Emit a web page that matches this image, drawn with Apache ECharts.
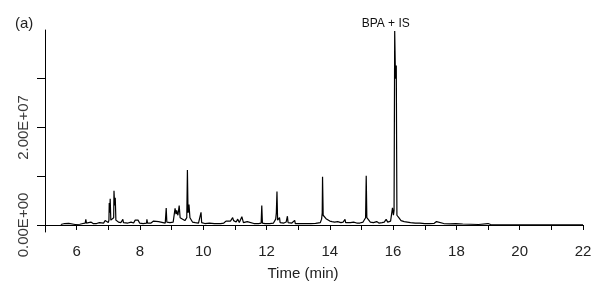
<!DOCTYPE html>
<html>
<head>
<meta charset="utf-8">
<script src="https://cdn.jsdelivr.net/npm/echarts@6/dist/echarts.min.js"></script>
<style>
    html, body { margin: 0; padding: 0; background: #fff; }
    #chart { width: 605px; height: 293px; }
</style>
</head>
<body>
<div id="chart"></div>
<script>
// retention time (min)
var times = [
    5.50, 5.62, 5.68, 5.75, 5.80, 5.95, 6.10, 6.20, 6.27, 6.29, 6.31, 6.35, 6.45, 6.52, 6.57, 6.63, 6.72, 6.78, 6.85, 6.90, 6.96,
    7.00, 7.02, 7.03, 7.045, 7.06, 7.08, 7.13, 7.17, 7.18, 7.20, 7.22, 7.24, 7.32, 7.40, 7.45, 7.46, 7.48, 7.62, 7.72, 7.80, 7.85, 7.89, 7.94, 7.99,
    8.10, 8.21, 8.22, 8.24, 8.35, 8.43, 8.48, 8.59, 8.65, 8.80, 8.83, 8.85, 8.95,
    9.05, 9.10, 9.11, 9.14, 9.16, 9.20, 9.24, 9.27, 9.35, 9.42, 9.48, 9.50, 9.52, 9.55, 9.58, 9.66, 9.75, 9.85, 9.91, 9.93, 9.95,
    10.05, 10.20, 10.35, 10.55, 10.65, 10.72, 10.78, 10.86, 10.93, 10.96, 10.99,
    11.04, 11.09, 11.14, 11.18, 11.22, 11.27, 11.33, 11.39, 11.45, 11.60, 11.75, 11.83, 11.85, 11.87, 11.95,
    12.10, 12.22, 12.29, 12.31, 12.33, 12.35, 12.38, 12.41, 12.43, 12.55, 12.62, 12.66, 12.68, 12.80, 12.89, 12.91,
    13.10, 13.25, 13.40, 13.55, 13.70, 13.74, 13.76, 13.77, 13.79, 13.83, 13.88, 13.93,
    14.00, 14.07, 14.15, 14.25, 14.35, 14.42, 14.48, 14.50, 14.65, 14.75, 14.85, 14.95,
    15.05, 15.11, 15.13, 15.15, 15.17, 15.21, 15.28, 15.38, 15.48, 15.55, 15.65, 15.72, 15.78, 15.83, 15.92, 15.97, 15.98,
    16.01, 16.03, 16.05, 16.075, 16.10, 16.12, 16.18, 16.25, 16.35, 16.45, 16.55, 16.70, 16.85,
    17.00, 17.15, 17.30, 17.37, 17.43, 17.60, 17.80, 17.98,
    18.20, 18.45, 18.70, 19.00, 19.08, 19.40, 20.00, 21.00, 22.00
];
// detector response (counts)
var signal = [
    0.1e6, 0.3e6, 0.2e6, 0.35e6, 0.1e6, 0.1e6, 0.15e6, 0.3e6, 0.4e6, 1.15e6, 0.4e6, 0.4e6, 0.6e6, 0.3e6, 0.7e6, 0.3e6, 0.5e6, 0.3e6, 0.4e6, 0.9e6, 0.5e6,
    0.5e6, 1.0e6, 4.5e6, 2.5e6, 5.4e6, 1.0e6, 0.8e6, 1.5e6, 7.0e6, 4.0e6, 5.6e6, 1.0e6, 0.6e6, 0.5e6, 0.5e6, 1.15e6, 0.5e6, 0.4e6, 0.6e6, 0.4e6, 1.0e6, 0.6e6, 1.0e6, 0.4e6,
    0.3e6, 0.4e6, 1.15e6, 0.4e6, 0.4e6, 0.8e6, 0.4e6, 0.7e6, 0.4e6, 0.4e6, 3.5e6, 0.6e6, 0.5e6,
    0.6e6, 1.0e6, 3.4e6, 2.2e6, 3.0e6, 2.0e6, 4.0e6, 1.5e6, 1.2e6, 0.9e6, 1.5e6, 11.3e6, 2.5e6, 4.2e6, 1.5e6, 0.6e6, 0.5e6, 0.4e6, 0.5e6, 2.6e6, 0.5e6,
    0.3e6, 0.4e6, 0.3e6, 0.3e6, 0.4e6, 0.8e6, 0.5e6, 0.8e6, 1.5e6, 0.9e6, 1.3e6,
    0.6e6, 1.2e6, 0.5e6, 0.8e6, 1.7e6, 0.5e6, 0.4e6, 0.7e6, 0.3e6, 0.3e6, 0.3e6, 0.4e6, 4.0e6, 0.4e6, 0.3e6,
    0.3e6, 0.4e6, 1.2e6, 2.5e6, 6.85e6, 1.0e6, 0.6e6, 1.5e6, 0.5e6, 0.4e6, 0.6e6, 1.8e6, 0.5e6, 0.4e6, 0.95e6, 0.3e6,
    0.3e6, 0.3e6, 0.3e6, 0.35e6, 0.5e6, 1.2e6, 2.5e6, 9.9e6, 2.0e6, 1.8e6, 1.3e6, 1.5e6,
    0.8e6, 0.7e6, 0.6e6, 0.7e6, 0.5e6, 0.6e6, 1.15e6, 0.5e6, 0.5e6, 0.6e6, 0.4e6, 0.4e6,
    0.6e6, 0.8e6, 1.5e6, 10.1e6, 1.5e6, 1.7e6, 0.6e6, 0.5e6, 0.7e6, 0.4e6, 0.5e6, 0.6e6, 1.15e6, 0.6e6, 0.8e6, 1.2e6, 3.5e6,
    2.0e6, 3.0e6, 39.8e6, 30.0e6, 32.7e6, 2.0e6, 1.5e6, 0.9e6, 0.7e6, 0.6e6, 0.5e6, 0.4e6, 0.4e6,
    0.3e6, 0.3e6, 0.35e6, 0.7e6, 0.3e6, 0.3e6, 0.25e6, 0.3e6,
    0.2e6, 0.15e6, 0.1e6, 0.3e6, 0.1e6, 0.05e6, 0.05e6, 0.05e6, 0.05e6
];
var xLabelValues = [6, 8, 10, 12, 14, 16, 18, 20, 22];
var yTickValues = [0, 1e7, 2e7, 3e7];
var yLabelValues = [0, 2e7];
var yLabelText = { 0: '0.00E+00', 20000000: '2.00E+07' };
var peakName = 'BPA + IS';
var peakAt = [16.05, 39.8e6];

var chart = echarts.init(document.getElementById('chart'));
var font = 'Liberation Sans, Arial, sans-serif';

var option = {
    animation: false,
    backgroundColor: '#fff',
    title: {
        text: '(a)',
        left: 10,
        top: 11,
        textStyle: { fontFamily: font, fontSize: 15, fontWeight: 'normal', color: '#222' }
    },
    grid: { left: 45, right: 22, top: 30, bottom: 61 },
    xAxis: {
        type: 'value',
        min: 5,
        max: 22,
        interval: 1,
        name: 'Time (min)',
        nameLocation: 'middle',
        nameGap: 34,
        nameTextStyle: { fontFamily: font, fontSize: 15, color: '#222', padding: [0, 22, 0, 0] },
        axisLine: { lineStyle: { color: '#000', width: 1 } },
        axisTick: { show: true, length: 5, lineStyle: { color: '#000' } },
        axisLabel: {
            customValues: xLabelValues,
            fontFamily: font, fontSize: 15, color: '#222', margin: 12
        },
        splitLine: { show: false }
    },
    yAxis: {
        type: 'value',
        min: -1.436e6,
        max: 4e7,
        axisLine: { show: true, lineStyle: { color: '#000', width: 1 } },
        axisTick: { show: true, length: 8, customValues: yTickValues, lineStyle: { color: '#000' } },
        axisLabel: {
            customValues: yLabelValues,
            rotate: 90,
            margin: 14,
            fontFamily: font, fontSize: 15, color: '#3a3a3a',
            formatter: function (v) { return yLabelText[v] || ''; }
        },
        splitLine: { show: false }
    },
    series: [{
        type: 'line',
        smooth: false,
        data: times.map(function (t, i) { return [t, signal[i]]; }),
        showSymbol: false,
        lineStyle: { color: '#000', width: 1.2 },
        markPoint: {
            symbol: 'circle',
            symbolSize: 1,
            itemStyle: { color: 'rgba(0,0,0,0)' },
            label: {
                show: true,
                position: 'top',
                distance: 1,
                offset: [-9, 0],
                formatter: peakName,
                fontFamily: font,
                fontSize: 12,
                color: '#111'
            },
            data: [{ coord: peakAt }]
        }
    }]
};

chart.setOption(option);
</script>
</body>
</html>
